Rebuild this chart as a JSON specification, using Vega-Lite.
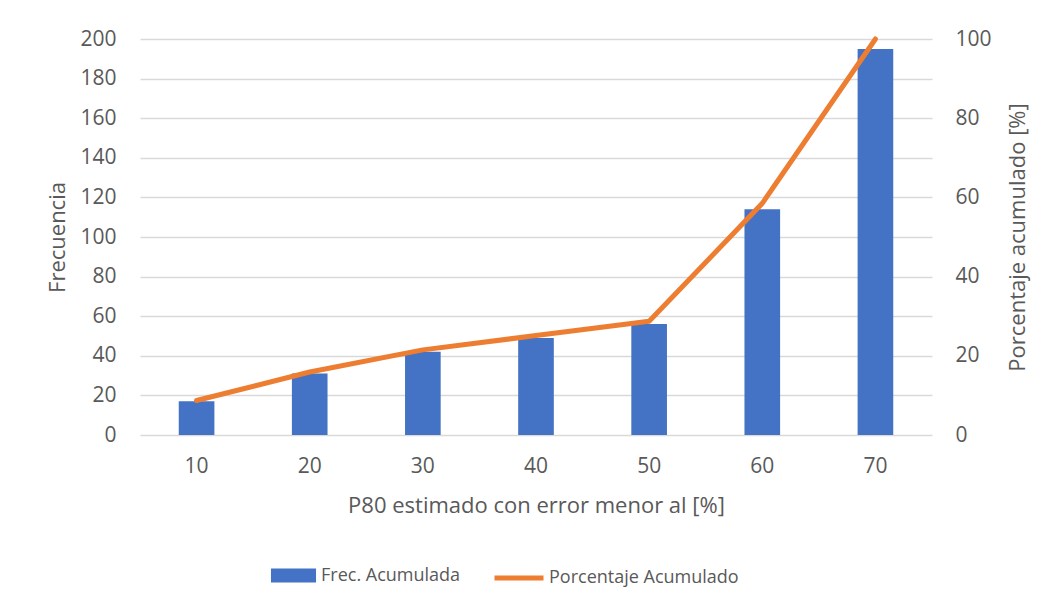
{
  "$schema": "https://vega.github.io/schema/vega-lite/v6.json",
  "width": 792,
  "height": 396,
  "padding": {"left": 46, "top": 28, "right": 12, "bottom": 0},
  "background": "white",
  "config": {
    "view": {"stroke": null},
    "font": "Open Sans",
    "axis": {
      "labelFont": "Open Sans",
      "titleFont": "Open Sans",
      "labelFontSize": 21,
      "titleFontSize": 22,
      "titleFontWeight": "normal",
      "labelColor": "#595959",
      "titleColor": "#595959",
      "domain": false,
      "ticks": false,
      "gridColor": "#d9d9d9",
      "gridWidth": 1.5
    },
    "legend": {
      "labelFont": "Open Sans",
      "labelFontSize": 18,
      "labelColor": "#595959",
      "labelLimit": 500
    }
  },
  "data": {
    "values": [
      {"p": "10", "frec": 17, "pct": 8.7},
      {"p": "20", "frec": 31, "pct": 15.9},
      {"p": "30", "frec": 42, "pct": 21.5},
      {"p": "40", "frec": 49, "pct": 25.1},
      {"p": "50", "frec": 56, "pct": 28.7},
      {"p": "60", "frec": 114, "pct": 58.5},
      {"p": "70", "frec": 195, "pct": 100}
    ]
  },
  "encoding": {
    "x": {
      "field": "p",
      "type": "ordinal",
      "sort": null,
      "scale": {"paddingInner": 0.685, "paddingOuter": 0.3425},
      "axis": {
        "title": "P80 estimado con error menor al [%]",
        "labelAngle": 0,
        "labelPadding": 20,
        "titlePadding": 19,
        "grid": false
      }
    }
  },
  "layer": [
    {
      "mark": {"type": "bar", "color": "#4472C4"},
      "encoding": {
        "y": {
          "field": "frec",
          "type": "quantitative",
          "scale": {"domain": [0, 200], "nice": false},
          "axis": {
            "title": "Frecuencia",
            "values": [0, 20, 40, 60, 80, 100, 120, 140, 160, 180, 200],
            "labelPadding": 24,
            "titlePadding": 10,
            "grid": true
          }
        },
        "color": {
          "datum": "Frec. Acumulada",
          "type": "nominal",
          "scale": {"range": ["#4472C4"]},
          "legend": {
            "orient": "none",
            "legendX": 129,
            "legendY": 512,
            "title": null,
            "symbolType": "M-0.92,-0.29H0.92V0.29H-0.92Z",
            "symbolSize": 2401,
            "symbolStrokeWidth": 0,
            "labelOffset": 3
          }
        }
      }
    },
    {
      "mark": {
        "type": "line",
        "color": "#ED7D31",
        "strokeWidth": 5,
        "strokeCap": "round",
        "strokeJoin": "round"
      },
      "encoding": {
        "y": {
          "field": "pct",
          "type": "quantitative",
          "scale": {"domain": [0, 100], "nice": false},
          "axis": {
            "title": "Porcentaje acumulado [%]",
            "orient": "right",
            "values": [0, 20, 40, 60, 80, 100],
            "labelPadding": 23,
            "titlePadding": 38,
            "titleAngle": 270,
            "grid": false
          }
        },
        "stroke": {
          "datum": "Porcentaje Acumulado",
          "type": "nominal",
          "scale": {"range": ["#ED7D31"]},
          "legend": {
            "orient": "none",
            "legendX": 352,
            "legendY": 512,
            "title": null,
            "symbolType": "stroke",
            "symbolSize": 2401,
            "symbolStrokeWidth": 5,
            "labelOffset": 3
          }
        }
      }
    }
  ],
  "resolve": {"scale": {"y": "independent", "color": "independent", "stroke": "independent"}}
}
